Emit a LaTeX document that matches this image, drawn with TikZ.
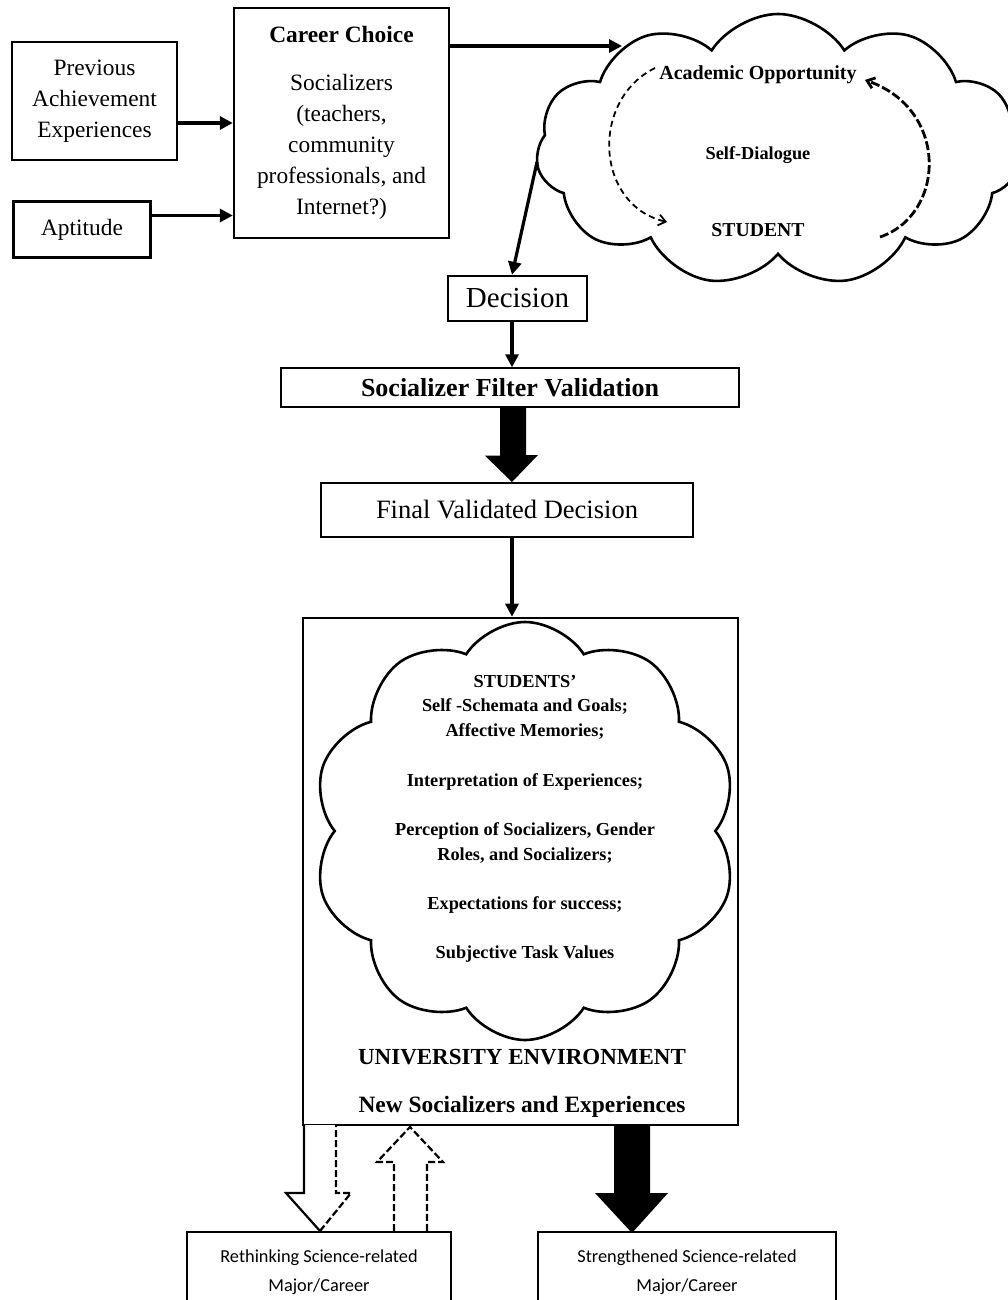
\documentclass[tikz,border=0pt]{standalone}
\usepackage{fontspec}
\setmainfont{Liberation Serif}
\newfontfamily\calibri{Carlito}
\usetikzlibrary{arrows.meta,shapes.symbols,positioning,calc}

\tikzset{
  box/.style={draw, line width=2.4pt, align=center, inner sep=0pt},
  thinbox/.style={draw, line width=1.4pt, align=center, inner sep=0pt},
  txt/.style={font=\fontsize{23.4}{31}\selectfont},
  cloudtxt/.style={font=\bfseries\fontsize{18.3}{24.7}\selectfont, align=center},
  arr/.style={line width=3.2pt, -{Triangle[length=13pt,width=13pt]}},
  dasharr/.style={line width=1.8pt, dash pattern=on 6pt off 4pt, -{Straight Barb[length=7pt,width=11pt]}},
  blob/.style={cloud, draw, line width=2.6pt, cloud puff arc=115, inner sep=0pt}
}

\begin{document}
\begin{tikzpicture}[x=1pt,y=-1pt]
\useasboundingbox (0,0) rectangle (1008,1300);
\clip (0,0) rectangle (1008,1300);

% inputs
\node[box, txt, minimum width=165, minimum height=118] (prev) at (94.5,101) {Previous\\Achievement\\Experiences};
\node[box, txt, minimum width=137, minimum height=56] (apt) at (82,229.5) {Aptitude};
\node[box, txt, minimum width=215, minimum height=230] (career) at (341.5,123)
  {\textbf{Career Choice}\\[17pt]Socializers\\(teachers,\\community\\professionals, and\\Internet?)};

% self-dialogue cloud
\node[blob, cloud puffs=11, aspect=1.8, minimum width=484, minimum height=272] (dlg) at (778,150) {};
\node[font=\bfseries\fontsize{20}{24}\selectfont] (acad) at (758,75) {Academic Opportunity};
\node[font=\bfseries\fontsize{18.3}{22}\selectfont] (self) at (758,155) {Self-Dialogue};
\node[font=\bfseries\fontsize{19.7}{24}\selectfont] (stud) at (758,230) {STUDENT};
\coordinate (ctip) at (622,46);
\coordinate (cout) at (537,162);
\coordinate (la) at (655,68);
\coordinate (lb) at (667,222);
\coordinate (ra) at (880,237);
\coordinate (rb) at (865,80);

% decision chain
\node[box, font=\fontsize{29}{34}\selectfont, minimum width=139, minimum height=45] (dec) at (517.5,298.5) {Decision};
\node[thinbox, font=\bfseries\fontsize{26}{30}\selectfont, minimum width=458, minimum height=39] (sfv) at (510,387.5) {Socializer Filter Validation};
\node[box, font=\fontsize{26.5}{30}\selectfont, minimum width=372, minimum height=54] (fvd) at (507,510) {Final Validated Decision};

% university
\node[draw, line width=2.6pt, minimum width=435, minimum height=507] (univ) at (520.5,871.5) {};
\node[blob, cloud puffs=10, aspect=1, minimum width=425, minimum height=418] (mind) at (525,831) {};
\node[cloudtxt] (schema) at (525,819) {STUDENTS’\\Self -Schemata and Goals;\\Affective Memories;\\[24.7pt]Interpretation of Experiences;\\[24.7pt]Perception of Socializers, Gender\\Roles, and Socializers;\\[24.7pt]Expectations for success;\\[24.7pt]Subjective Task Values};
\node[font=\bfseries\fontsize{23}{28}\selectfont] (env) at (522,1057) {UNIVERSITY ENVIRONMENT};
\node[font=\bfseries\fontsize{23.4}{28}\selectfont] (newsoc) at (522,1107) {New Socializers and Experiences};

% outcomes
\node[thinbox, font=\calibri\fontsize{18.3}{29}\selectfont, minimum width=264, minimum height=80] (rethink) at (319,1272) {Rethinking Science-related\\Major/Career};
\node[thinbox, font=\calibri\fontsize{18.3}{29}\selectfont, minimum width=298, minimum height=80] (strong) at (687,1272) {Strengthened Science-related\\Major/Career};

% connectors
\draw[arr] ([yshift=-22pt]prev.east) -- ([yshift=-22pt]prev.east -| career.west);
\draw[arr] ([yshift=14pt]apt.east) -- ([yshift=14pt]apt.east -| career.west);
\draw[arr] (career.east |- ctip) -- (ctip);
\draw[arr] (cout) -- ([xshift=-5.5pt]dec.north);
\draw[arr] ([xshift=-5.5pt]dec.south) -- ([xshift=-5.5pt]dec.south |- sfv.north);
\draw[arr] (fvd.south -| 512,0) -- (univ.north -| 512,0);
\draw[dasharr] (la) .. controls (590,100) and (595,205) .. (lb);
\draw[dasharr, line width=2.8pt, dash pattern=on 9pt off 3pt] (ra) .. controls (945,215) and (950,110) .. (rb);

% block arrows
\fill ([xshift=-10pt]sfv.south) -- ++(0,48) -- ++(-15,0) -- (512,482) -- (538,455) -- ++(-12,0) -- ([xshift=16pt]sfv.south) -- cycle;
\fill[white] (304,1125) -- (304,1193) -- (286,1193) -- (320,1231) -- (351,1193) -- (336,1193) -- (336,1125) -- cycle;
\draw[line width=2.2pt] (304,1125) -- (304,1193) -- (286,1193) -- (320,1231);
\draw[line width=2.2pt, dash pattern=on 7pt off 3pt] (320,1231) -- (351,1193) -- (336,1193) -- (336,1125);
\draw[line width=2.2pt, dash pattern=on 7pt off 3pt] (394,1231) -- (394,1162) -- (377,1162) -- (410,1127) -- (443,1162) -- (427,1162) -- (427,1231);
\fill (614,1125) -- (614,1193) -- (595,1193) -- (632,1233) -- (668,1193) -- (650,1193) -- (650,1125) -- cycle;
\end{tikzpicture}
\end{document}
